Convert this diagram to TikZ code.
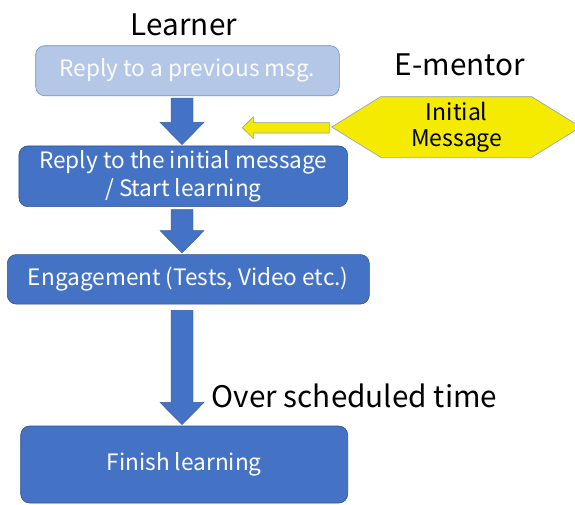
\documentclass[tikz,border=0pt]{standalone}
\usepackage{fontspec}
\setmainfont{Noto Sans CJK JP}
\usetikzlibrary{calc}
\definecolor{dblue}{RGB}{68,114,196}
\definecolor{dborder}{RGB}{47,82,143}
\definecolor{lblue}{RGB}{180,199,231}
\definecolor{lborder}{RGB}{110,140,200}
\definecolor{yel}{RGB}{245,235,0}
\definecolor{hexborder}{RGB}{140,160,190}
\newcommand\BlkArrow[2]{%
  \fill[dblue, draw=dborder!70!dblue, line width=0.4pt]
    ($(#1)+(-11,0)$) -- ($(#1)+(11,0)$) -- ($(#2)+(11,-22.3)$) -- ($(#2)+(22,-22.3)$)
    -- (#2) -- ($(#2)+(-22,-22.3)$) -- ($(#2)+(-11,-22.3)$) -- cycle;}
\begin{document}
\begin{tikzpicture}[x=1pt,y=-1pt,
  hdr/.style={font=\fontsize{29.7}{30}\selectfont, text=black, inner sep=0pt},
  darkbox/.style={draw=dborder, line width=0.6pt, fill=dblue, rounded corners=9pt, text=white,
    align=center, inner sep=0pt, font=\fontsize{22.6}{28}\selectfont},
  lightbox/.style={draw=lborder, line width=0.6pt, fill=lblue, rounded corners=9pt, text=white!95!lblue,
    align=center, inner sep=0pt, font=\fontsize{22.6}{28}\selectfont},
  hexshape/.style={draw=hexborder, line width=0.6pt, fill=yel},
  hextext/.style={align=center, inner sep=0pt, font=\fontsize{23}{25.7}\selectfont, text=black}]
\useasboundingbox (0,0) rectangle (575,504);
\fill[white] (0,0) rectangle (575,504);
\coordinate (ax) at (182,0);
% headers
\node[hdr, anchor=base] (learner) at (184,35.7) {Learner};
\node[hdr, anchor=base] (ementor) at (460,75) {E-mentor};
% boxes
\node[lightbox, minimum width=303.6, minimum height=50] (b1) at (187.5,70.7) {Reply to a previous msg.};
\node[darkbox, minimum width=328.7, minimum height=60.7] (b2) at (183.3,176.3) {Reply to the initial message\\/ Start learning};
\node[darkbox, minimum width=362, minimum height=49.5] (b3) at (188.3,279.3) {Engagement (Tests, Video etc.)};
\node[darkbox, minimum width=327, minimum height=77] (b4) at (184.2,464.5) {Finish learning};
% block arrows
\coordinate (s1) at ($(b1.south -| ax)+(0,2)$);
\coordinate (e1) at ($(b2.north -| ax)+(0,-1)$);
\coordinate (s2) at ($(b2.south -| ax)+(0,2.6)$);
\coordinate (e2) at ($(b3.north -| ax)+(0,-1.3)$);
\coordinate (s3) at ($(b3.south -| ax)+(0,6)$);
\coordinate (e3) at ($(b4.north -| ax)+(0,-1)$);
\BlkArrow{s1}{e1}
\BlkArrow{s2}{e2}
\BlkArrow{s3}{e3}
\node[hdr, anchor=base west] (over) at (211.7,407.3) {Over scheduled time};
% hexagon
\coordinate (hw) at (331.7,127);
\draw[hexshape] (hw) -- ++(49,-30.3) -- ++(151,0) -- ++(49,30.3) -- ++(-49,30.3) -- ++(-151,0) -- cycle;
\node[hextext] (hx) at (456.7,127) {Initial\\Message};
% yellow arrow
\coordinate (yt) at (242.3,127.7);
\coordinate (ye) at ($(hw)+(-2.4,0.7)$);
\draw[hexshape, line join=miter] (yt) -- ($(yt)+(11,-10.8)$) -- ($(yt)+(11,-5.3)$) -- ($(ye)+(0,-5.3)$)
  -- ($(ye)+(0,5.3)$) -- ($(yt)+(11,5.3)$) -- ($(yt)+(11,10.8)$) -- cycle;
\end{tikzpicture}
\end{document}
